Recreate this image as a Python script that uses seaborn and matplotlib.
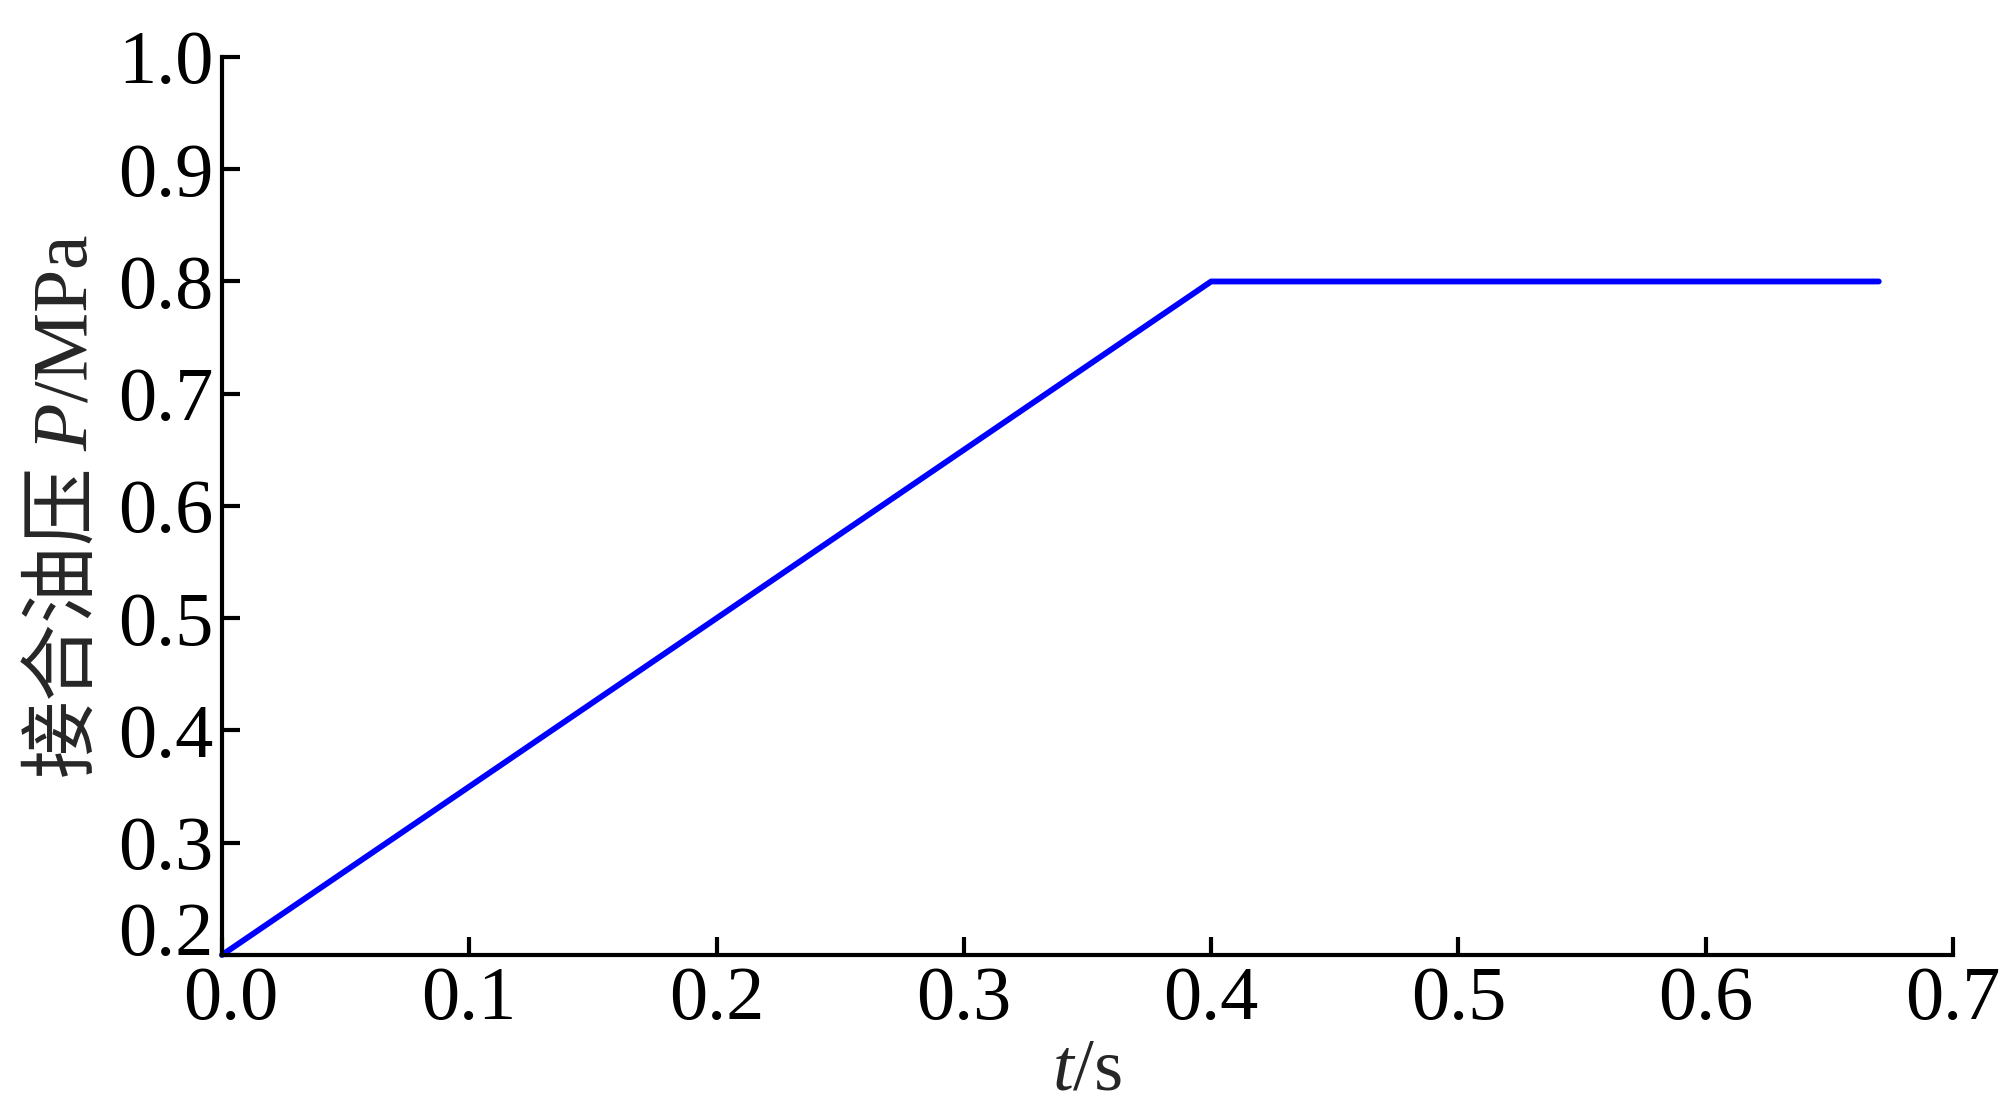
import matplotlib
matplotlib.use("Agg")
import matplotlib.pyplot as plt
import matplotlib.transforms as mtransforms
import seaborn as sns
import pandas as pd

# clutch engagement oil pressure vs time
time_s = [0.0, 0.4, 0.67]
pressure_mpa = [0.2, 0.8, 0.8]

x_ticks = [0.0, 0.1, 0.2, 0.3, 0.4, 0.5, 0.6, 0.7]
y_ticks = [0.2, 0.3, 0.4, 0.5, 0.6, 0.7, 0.8, 0.9, 1.0]

sns.set_style("ticks")
plt.rcParams['font.family'] = ['Liberation Serif', 'Noto Sans CJK SC', 'DejaVu Sans']
plt.rcParams['mathtext.fontset'] = 'custom'
plt.rcParams['mathtext.rm'] = 'Liberation Serif'
plt.rcParams['mathtext.it'] = 'Liberation Serif:italic'

df = pd.DataFrame({"t": time_s, "P": pressure_mpa})

fig = plt.figure(figsize=(20.02, 11.13), dpi=100)
ax = fig.add_axes([0.1109, 0.1420, 0.8646, 0.8068])

sns.lineplot(data=df, x="t", y="P", ax=ax, color="#0000ff", linewidth=4.2,
             solid_capstyle="round", clip_on=False)

ax.set_xlim(0, 0.7)
ax.set_ylim(0.2, 1.0)
ax.set_xticks(x_ticks)
ax.set_yticks(y_ticks)
ax.set_xticklabels([f"{v:.1f}" for v in x_ticks])
ax.set_yticklabels([f"{v:.1f}" for v in y_ticks])

sns.despine(ax=ax)
for side in ["left", "bottom"]:
    ax.spines[side].set_linewidth(3.0)
    ax.spines[side].set_color("black")

ax.tick_params(axis="both", direction="in", length=13, width=3.0,
               labelsize=55, colors="black")
ax.tick_params(axis="x", pad=8)
ax.tick_params(axis="y", pad=6)

# the corner labels are nudged apart like in the original
ax.get_yticklabels()[0].set_va("baseline")
shift = mtransforms.ScaledTranslation(9 / 100, 0, fig.dpi_scale_trans)
lbl0 = ax.get_xticklabels()[0]
lbl0.set_transform(lbl0.get_transform() + shift)

ax.set_xlabel(r"$t\mathrm{/s}$", fontsize=54, labelpad=2)
ax.set_ylabel(r"接合油压 $P\mathrm{/MPa}$", fontsize=56, labelpad=10,
              family="Noto Sans CJK SC")

fig.savefig("out.png", dpi=100, facecolor="white")
